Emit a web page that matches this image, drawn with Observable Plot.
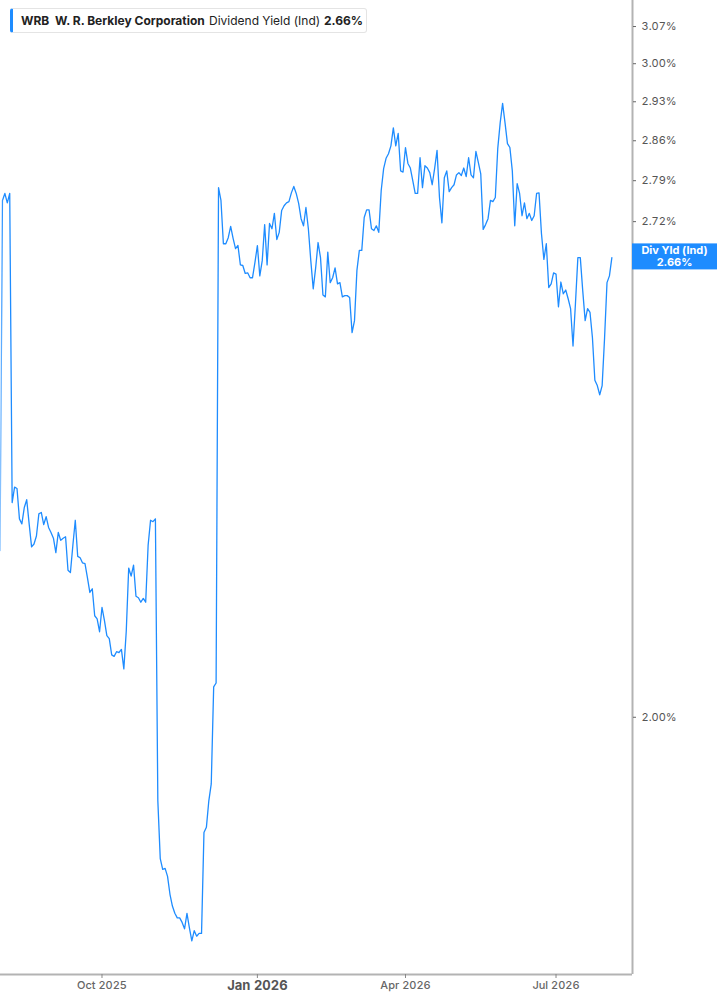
<!DOCTYPE html>
<html><head><meta charset="utf-8">
<script src="https://cdn.jsdelivr.net/npm/d3@7"></script>
<script src="https://cdn.jsdelivr.net/npm/@observablehq/plot@0.6"></script>
<style>
body{margin:0;background:#fff;}
#wrap{position:relative;width:717px;height:1005px;font-family:Inter,"Noto Sans",sans-serif;overflow:hidden;}
#hdr{position:absolute;left:10px;top:8px;height:25px;width:357px;box-sizing:border-box;border:1px solid #e4e4e4;border-left:3px solid #1e8cff;border-radius:3px;background:#fff;font-size:12px;color:#222;white-space:nowrap;}
#hdr span{position:absolute;top:4px;}
</style></head><body>
<div id="wrap"><div id="chart"></div>
<div id="hdr"><span id="h1" style="left:8px;font-weight:700">WRB</span><span id="h2" style="left:42px;font-weight:700">W. R. Berkley Corporation</span><span id="h3" style="left:196px;font-weight:400">Dividend Yield (Ind)</span><span id="h4" style="left:311px;font-weight:700">2.66%</span></div>
</div>
<script>
// Dividend yield (%), one value per trading day, Aug 2025 – Aug 2026
const yieldValues = [
2.218,2.756,2.768,2.752,2.768,2.285,2.307,2.305,2.262,2.255,
2.278,2.289,2.255,2.223,2.227,2.238,2.269,2.271,2.254,2.265,
2.250,2.243,2.235,2.215,2.243,2.232,2.235,2.237,2.191,2.188,
2.225,2.260,2.210,2.208,2.201,2.200,2.181,2.161,2.166,2.130,
2.126,2.109,2.141,2.124,2.104,2.100,2.079,2.077,2.083,2.082,
2.086,2.061,2.110,2.194,2.183,2.198,2.156,2.154,2.148,2.153,
2.148,2.225,2.260,2.258,2.262,1.899,1.832,1.820,1.821,1.812,
1.792,1.779,1.771,1.766,1.766,1.761,1.754,1.771,1.755,1.741,
1.752,1.746,1.749,1.749,1.862,1.868,1.899,1.919,2.038,2.043,
2.778,2.756,2.683,2.683,2.693,2.712,2.692,2.675,2.680,2.648,
2.647,2.634,2.635,2.627,2.627,2.652,2.680,2.630,2.655,2.715,
2.648,2.717,2.708,2.734,2.690,2.702,2.739,2.747,2.752,2.754,
2.769,2.780,2.768,2.751,2.725,2.713,2.744,2.708,2.655,2.609,
2.643,2.685,2.660,2.599,2.596,2.669,2.619,2.627,2.643,2.617,
2.619,2.596,2.598,2.598,2.595,2.539,2.558,2.639,2.672,2.672,
2.727,2.740,2.740,2.708,2.705,2.713,2.702,2.773,2.811,2.829,
2.837,2.851,2.883,2.851,2.873,2.807,2.805,2.848,2.820,2.812,
2.790,2.768,2.768,2.830,2.778,2.816,2.812,2.804,2.783,2.811,
2.843,2.761,2.718,2.795,2.807,2.771,2.778,2.783,2.800,2.804,
2.799,2.812,2.797,2.830,2.800,2.795,2.841,2.822,2.802,2.707,
2.715,2.725,2.756,2.754,2.761,2.846,2.892,2.927,2.892,2.855,
2.848,2.807,2.713,2.785,2.768,2.730,2.752,2.725,2.734,2.722,
2.730,2.768,2.769,2.700,2.657,2.683,2.611,2.617,2.635,2.633,
2.580,2.620,2.601,2.607,2.593,2.577,2.518,2.585,2.660,2.660,
2.606,2.558,2.577,2.571,2.531,2.465,2.457,2.443,2.457,2.531,
2.619,2.630,2.660
];
// x-axis ticks (trading-day index of first session in month)
const xTickIndex = [42, 106, 167, 229];
const xTickLabels = ["Oct 2025", "Jan 2026", "Apr 2026", "Jul 2026"];
const yTicks = [2.00, 2.72, 2.79, 2.86, 2.93, 3.00, 3.07];
const lastLabelTitle = "Div Yld (Ind)";
const lastValue = yieldValues[yieldValues.length - 1];

const blue = "#1e8cff";
const labelOf = i => xTickLabels[xTickIndex.indexOf(i)];
const data = yieldValues.map((v, i) => ({i, v}));

function lastLabel(index, scales, values, dims) {
  const cy = scales.y(lastValue);
  const x0 = dims.width - dims.marginRight;
  const g = d3.create("svg:g");
  g.append("rect").attr("x", x0).attr("y", cy - 13.7).attr("width", dims.marginRight).attr("height", 26).attr("fill", blue);
  g.append("text").attr("x", x0 + dims.marginRight / 2).attr("y", cy - 3.5)
    .attr("text-anchor", "middle").attr("fill", "#fff").attr("font-weight", 700).attr("font-size", 11)
    .attr("font-family", "Inter, sans-serif").text(lastLabelTitle);
  g.append("text").attr("x", x0 + dims.marginRight / 2).attr("y", cy + 9)
    .attr("text-anchor", "middle").attr("fill", "#fff").attr("font-weight", 700).attr("font-size", 11)
    .attr("font-family", "Inter, sans-serif").text(lastValue.toFixed(2) + "%");
  return g.node();
}

// soft fade at the left edge of the plot
function leftFade(index, scales, values, dims) {
  const g = d3.create("svg:g");
  const grad = g.append("defs").append("linearGradient").attr("id", "lfade").attr("x1", 0).attr("x2", 1).attr("y1", 0).attr("y2", 0);
  grad.append("stop").attr("offset", 0).attr("stop-color", "#fff").attr("stop-opacity", 0.55);
  grad.append("stop").attr("offset", 1).attr("stop-color", "#fff").attr("stop-opacity", 0);
  g.append("rect").attr("x", 0).attr("y", dims.marginTop).attr("width", 3)
    .attr("height", dims.height - dims.marginTop - dims.marginBottom).attr("fill", "url(#lfade)");
  return g.node();
}

const chart = Plot.plot({
  width: 717,
  height: 1005,
  marginTop: 0,
  marginBottom: 31,
  marginLeft: 0,
  marginRight: 85,
  style: {fontFamily: "Inter, sans-serif", background: "#fff", overflow: "visible"},
  x: {domain: [0.2, 260.5], axis: null},
  y: {type: "log", domain: [1.705, 3.12], axis: null},
  marks: [
    Plot.line(data, {x: "i", y: "v", stroke: blue, strokeWidth: 1.3, clip: true}),
    leftFade,
    Plot.ruleY([1.705], {stroke: "#b3b3b3", strokeWidth: 2}),
    Plot.ruleX([260.5], {stroke: "#b3b3b3", strokeWidth: 2}),
    Plot.axisY(yTicks, {anchor: "right", label: null, tickSize: 3, tickPadding: 6, fontSize: 11, stroke: "#666", color: "#555", tickFormat: d => d.toFixed(2) + "%"}),
    Plot.axisX(xTickIndex.filter(i => i !== 106), {anchor: "bottom", label: null, tickSize: 4, tickPadding: 3, fontSize: 11, fontWeight: 500, stroke: "#888", color: "#666", tickFormat: labelOf}),
    Plot.axisX([106], {anchor: "bottom", label: null, tickSize: 4, tickPadding: 2, fontSize: 13, fontWeight: 700, stroke: "#888", color: "#555", tickFormat: labelOf}),
    lastLabel
  ]
});
document.getElementById("chart").appendChild(chart);
</script>
</body></html>
